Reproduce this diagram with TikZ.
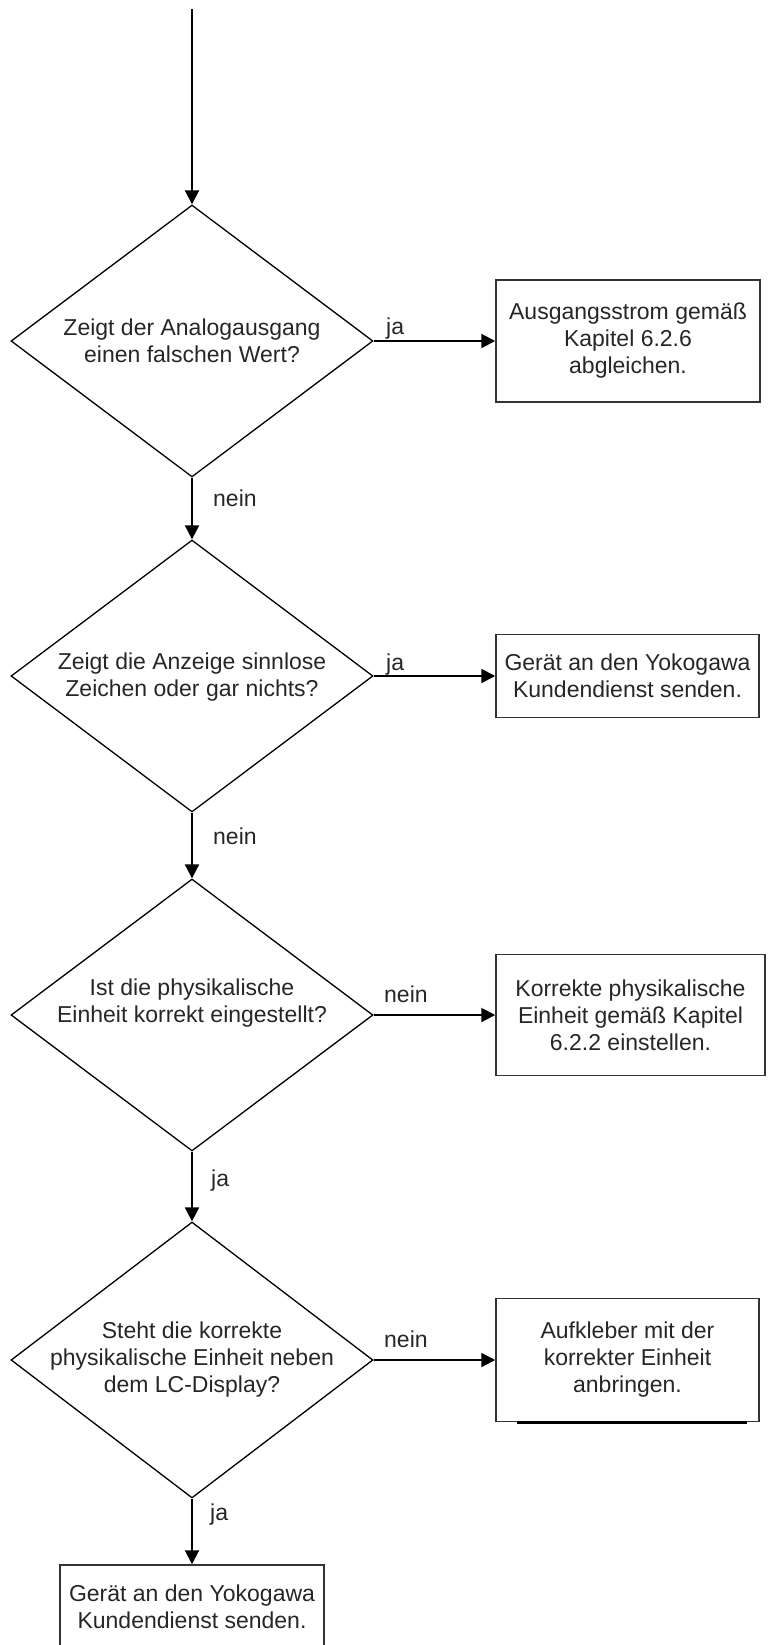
\documentclass[tikz,border=0pt]{standalone}
\usepackage{fontspec}
\setmainfont{Liberation Sans}
\usetikzlibrary{shapes.geometric,arrows.meta}
\begin{document}
\begin{tikzpicture}[x=1pt,y=-1pt,
  every node/.style={font=\fontsize{23}{27}\selectfont, text=black!85},
  decision/.style={draw=black, line width=1.3pt, shape=diamond,
    minimum width=362pt, minimum height=272pt, inner sep=0pt},
  qtext/.style={align=center, inner sep=0pt},
  actbox/.style={draw=black!80, line width=1.5pt, align=center, inner sep=0pt},
  flow/.style={line width=2pt, draw=black, -{Triangle[length=14pt,width=14pt]}},
  lbl/.style={anchor=base west, inner sep=0pt}]
\useasboundingbox (0,0) rectangle (769,1645);

% entry point
\coordinate (start) at (192,9);

% decisions
\node[decision] (d1) at (192,341) {};
\node[qtext] (q1) at (192,341) {Zeigt der Analogausgang\\einen falschen Wert?};
\node[decision] (d2) at (192,676) {};
\node[qtext] (q2) at (192,677) {Zeigt die Anzeige sinnlose\\Zeichen oder gar nichts?};
\node[decision] (d3) at (192,1015) {};
\node[qtext] (q3) at (192,1003) {Ist die physikalische\\Einheit korrekt eingestellt?};
\node[decision, minimum height=276pt] (d4) at (192,1360) {};
\node[qtext] (q4) at (192,1360) {Steht die korrekte\\physikalische Einheit neben\\dem LC-Display?};

% actions
\node[actbox, minimum width=264pt, minimum height=122pt] (b1) at (628,341)
  {Ausgangsstrom gemäß\\Kapitel 6.2.6\\abgleichen.};
\node[actbox, minimum width=263pt, minimum height=83pt] (b2) at (627.5,676)
  {Gerät an den Yokogawa\\Kundendienst senden.};
\node[actbox, minimum width=269pt, minimum height=121pt] (b3) at (630.5,1015)
  {Korrekte physikalische\\Einheit gemäß Kapitel\\6.2.2 einstellen.};
\node[actbox, minimum width=263pt, minimum height=123pt] (b4) at (627.5,1360)
  {Aufkleber mit der\\korrekter Einheit\\anbringen.};
\node[actbox, minimum width=264pt, minimum height=83pt] (b5) at (192,1606.5)
  {Gerät an den Yokogawa\\Kundendienst senden.};

% heavy underline on the sticker box
\draw[line width=3pt, black] ([xshift=22pt]b4.south west) -- ([xshift=-13pt]b4.south east);

% connectors
\draw[flow] (start) -- (d1.north);
\draw[flow] (d1.south) -- (d2.north);
\draw[flow] (d2.south) -- (d3.north);
\draw[flow] (d3.south) -- (d4.north);
\draw[flow] (d4.south) -- (b5.north);
\draw[flow] (d1.east) -- (b1.west);
\draw[flow] (d2.east) -- (b2.west);
\draw[flow] (d3.east) -- (b3.west);
\draw[flow] (d4.east) -- (b4.west);

% branch labels
\node[lbl] (l1) at (386,334) {ja};
\node[lbl] (l2) at (213,506) {nein};
\node[lbl] (l3) at (386,670) {ja};
\node[lbl] (l4) at (213,844) {nein};
\node[lbl] (l5) at (384,1002) {nein};
\node[lbl] (l6) at (211,1186) {ja};
\node[lbl] (l7) at (384,1347) {nein};
\node[lbl] (l8) at (210,1520) {ja};
\end{tikzpicture}
\end{document}
